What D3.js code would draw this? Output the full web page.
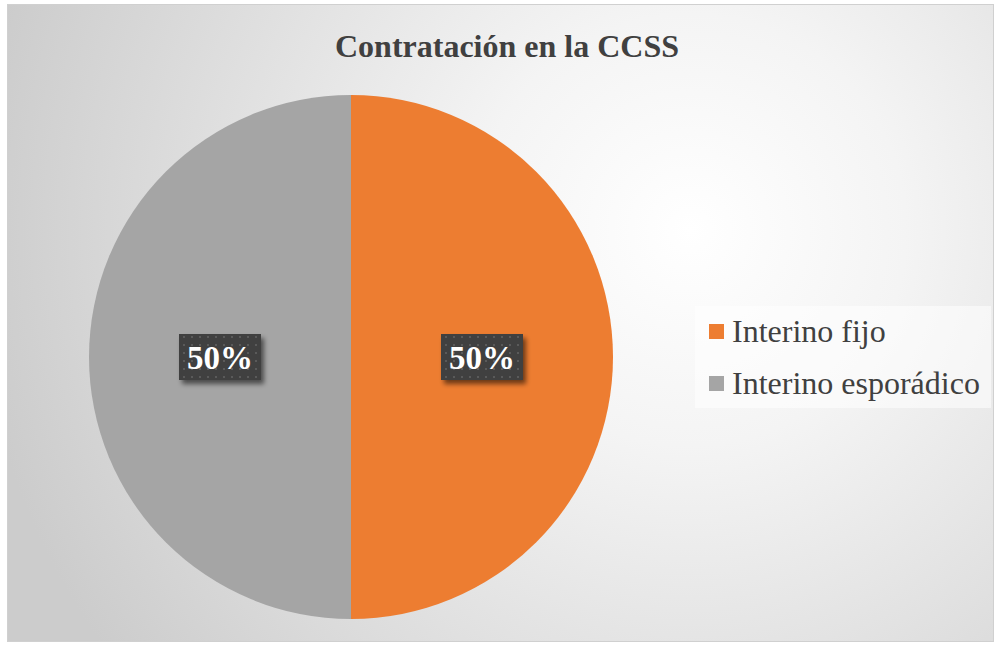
<!DOCTYPE html>
<html>
<head>
<meta charset="utf-8">
<script src="https://cdn.jsdelivr.net/npm/d3@7"></script>
<style>
html,body{margin:0;padding:0;background:#fff;}
svg{display:block;}
</style>
</head>
<body>
<script>
const categories = ["Interino fijo", "Interino esporádico"];
const values = [50, 50];
const colors = ["#ED7D31", "#A5A5A5"];
const title = "Contratación en la CCSS";

const W = 999, H = 647;
const FONT = "'Liberation Serif','Times New Roman',Times,serif";
const svg = d3.select("body").append("svg").attr("width", W).attr("height", H);
const defs = svg.append("defs");

const rg = defs.append("radialGradient").attr("id", "bg")
  .attr("gradientUnits", "userSpaceOnUse")
  .attr("cx", 690).attr("cy", 230).attr("r", 720);
rg.append("stop").attr("offset", "0%").attr("stop-color", "#ffffff");
rg.append("stop").attr("offset", "30%").attr("stop-color", "#f4f4f4");
rg.append("stop").attr("offset", "100%").attr("stop-color", "#cccccc");

const pat = defs.append("pattern").attr("id", "dots")
  .attr("patternUnits", "userSpaceOnUse").attr("width", 8).attr("height", 8);
pat.append("rect").attr("width", 8).attr("height", 8).attr("fill", "#404040");
pat.append("rect").attr("x", 3).attr("y", 3).attr("width", 2).attr("height", 2).attr("fill", "#5a5a5a");

const flt = defs.append("filter").attr("id", "shadow").attr("x", "-20%").attr("y", "-20%").attr("width", "150%").attr("height", "160%");
flt.append("feGaussianBlur").attr("in", "SourceAlpha").attr("stdDeviation", 2.5);
flt.append("feOffset").attr("dx", 3).attr("dy", 4).attr("result", "b");
flt.append("feComponentTransfer").append("feFuncA").attr("type", "linear").attr("slope", 0.55);
const fm = flt.append("feMerge");
fm.append("feMergeNode");
fm.append("feMergeNode").attr("in", "SourceGraphic");

// chart area
svg.append("rect").attr("x", 7.5).attr("y", 4.5).attr("width", 986).attr("height", 637)
  .attr("fill", "url(#bg)").attr("stroke", "#d0d0d0").attr("stroke-width", 1);

svg.append("text").attr("x", 507).attr("y", 57).attr("text-anchor", "middle")
  .attr("font-family", FONT)
  .attr("font-weight", "bold").attr("font-size", 32).attr("fill", "#404040")
  .text(title);

const cx = 351, cy = 357, R = 262;
const pie = d3.pie().sort(null).value(d => d)(values);
const arc = d3.arc().innerRadius(0).outerRadius(R);
const color = d3.scaleOrdinal().domain(categories).range(colors);

const g = svg.append("g").attr("transform", `translate(${cx},${cy})`);
g.selectAll("path.slice").data(pie).join("path").attr("class", "slice")
  .attr("d", arc).attr("fill", (d, i) => color(categories[i]));

const lab = g.selectAll("g.lab").data(pie).join("g").attr("class", "lab")
  .attr("transform", d => { const c = arc.centroid(d); return `translate(${c[0]},${c[1]})`; });
const total = d3.sum(values);
lab.append("rect").attr("x", -41).attr("y", -23).attr("width", 82).attr("height", 46)
  .attr("fill", "url(#dots)").attr("filter", "url(#shadow)");
lab.append("text").attr("text-anchor", "middle").attr("y", 12)
  .attr("font-family", FONT)
  .attr("font-weight", "bold").attr("font-size", 33).attr("fill", "#ffffff")
  .text(d => Math.round(d.data / total * 100) + "%");

// legend
const lg = svg.append("g");
lg.append("rect").attr("x", 695).attr("y", 306).attr("width", 296).attr("height", 102)
  .attr("fill", "#ffffff").attr("fill-opacity", 0.55);
const items = lg.selectAll("g.item").data(categories).join("g").attr("class", "item")
  .attr("transform", (d, i) => `translate(709,${324 + i * 52})`);
items.append("rect").attr("width", 15).attr("height", 15).attr("fill", d => color(d));
items.append("text").attr("x", 23).attr("y", 18)
  .attr("font-family", FONT)
  .attr("font-size", 32).attr("fill", "#404040").text(d => d);
</script>
</body>
</html>
